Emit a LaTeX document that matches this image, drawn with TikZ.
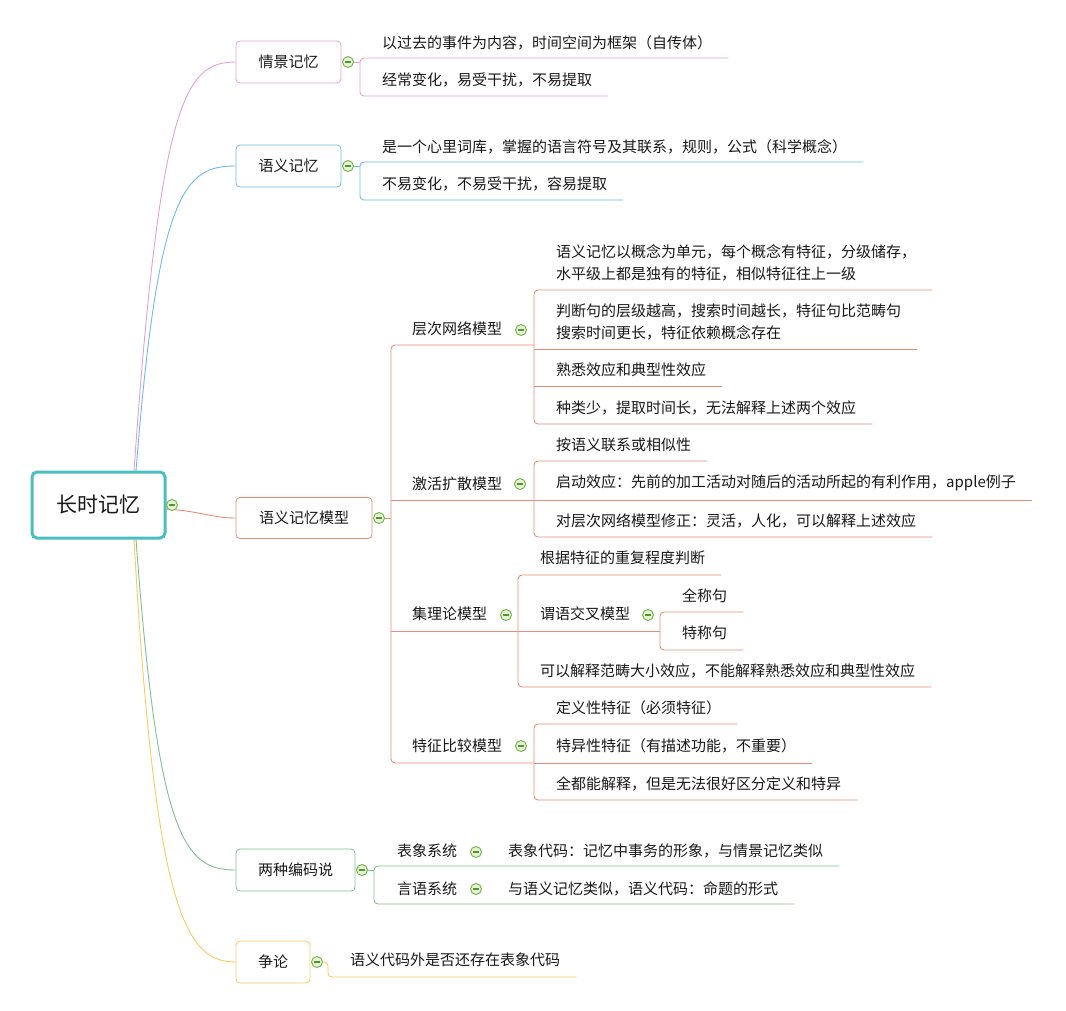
\documentclass[tikz,border=0pt]{standalone}
\usepackage{fontspec}
\setmainfont{Noto Sans CJK SC}
\definecolor{cpink}{RGB}{226,162,214}
\definecolor{cblue}{RGB}{112,186,240}
\definecolor{csalmon}{RGB}{232,142,120}
\definecolor{cgreen}{RGB}{128,192,146}
\definecolor{cyellow}{RGB}{250,204,96}
\definecolor{cteal}{RGB}{76,190,192}
\definecolor{cminus}{RGB}{112,180,66}
\definecolor{cminusfill}{RGB}{228,242,214}
\definecolor{ctext}{RGB}{25,25,25}
\newcommand\mmleaf[5]{%
  \node[txt] (#1) at ({#2+22},{#4}) {#5};
  \coordinate (#1s) at (#2,#3);
  \coordinate[xshift=16pt] (#1e) at (#1.east |- #1s);
}
\begin{document}
\begin{tikzpicture}[x=1pt,y=-1pt,
  txt/.style={font=\fontsize{15}{22}\selectfont, text=ctext, inner sep=0pt, align=left, anchor=west},
  box/.style={draw, rounded corners=4pt, line width=0.8pt, minimum height=42pt, inner sep=0pt,
    font=\fontsize{15}{18}\selectfont, text=ctext, fill=white},
  minus/.style={circle, draw=cminus, fill=cminusfill, line width=0.9pt, minimum size=11pt, inner sep=0pt,
    path picture={\draw[cminus!80!black, line width=1.1pt]
      ([xshift=-3pt]path picture bounding box.center) -- ([xshift=3pt]path picture bounding box.center);}},
  conn/.style={line width=0.9pt, rounded corners=4pt},
  curve/.style={line width=0.9pt}]
\useasboundingbox (0,0) rectangle (1066,1010);
\fill[white] (0,0) rectangle (1066,1010);

% ---------- main boxes ----------
\node[box, draw=cpink, minimum width=105pt] (qj) at (288.5,62) {情景记忆};
\node[box, draw=cblue, minimum width=105pt] (yy) at (288.5,166) {语义记忆};
\node[box, draw=csalmon, minimum width=136pt, minimum height=41pt] (ym) at (304,518) {语义记忆模型};
\node[box, draw=cgreen, minimum width=119pt] (lz) at (295.5,870) {两种编码说};
\node[box, draw=cyellow, minimum width=74pt] (zl) at (273,962) {争论};

% ---------- root curves ----------
\coordinate (r1) at (134,471);
\coordinate (r2) at (136,471);
\coordinate (r3) at (166,509);
\coordinate (r4) at (136,539);
\coordinate (r5) at (134,539);
\draw[curve, cpink] (r1) .. controls (160,100) and (185,62) .. (qj.west);
\draw[curve, cblue] (r2) .. controls (158,190) and (185,166) .. (yy.west);
\draw[curve, csalmon] (r3) .. controls (200,511) and (212,518) .. (ym.west);
\draw[curve, cgreen] (r4) .. controls (158,840) and (185,870) .. (lz.west);
\draw[curve, cyellow] (r5) .. controls (155,910) and (185,962) .. (zl.west);

\node[draw=cteal, line width=3pt, rounded corners=5pt, fill=white, minimum width=133pt, minimum height=66pt,
  font=\fontsize{21}{24}\selectfont, text=ctext] (root) at (98.5,505) {长时记忆};

% ---------- 情景记忆 ----------
\mmleaf{q1}{360}{58}{43}{以过去的事件为内容，时间空间为框架（自传体）}
\mmleaf{q2}{360}{96}{80}{经常变化，易受干扰，不易提取}
\node[minus] (cqj) at (348,62) {};
\draw[conn, cpink] (q1e) -- (q1s) -- (q2s) -- (q2e);
\draw[conn, cpink] (cqj.east) -- (cqj.east -| q1s);

% ---------- 语义记忆 ----------
\mmleaf{y1}{360}{162}{147}{是一个心里词库，掌握的语言符号及其联系，规则，公式（科学概念）}
\mmleaf{y2}{360}{200}{184}{不易变化，不易受干扰，容易提取}
\node[minus] (cyy) at (348,166) {};
\draw[conn, cblue] (y1e) -- (y1s) -- (y2s) -- (y2e);
\draw[conn, cblue] (cyy.east) -- (cyy.east -| y1s);

% ---------- 语义记忆模型 ----------
\node[txt] (cc) at (412,329) {层次网络模型};
\node[txt] (jh) at (412,484) {激活扩散模型};
\node[txt] (jl) at (412,614) {集理论模型};
\node[txt] (tz) at (412,746) {特征比较模型};
\coordinate (ccs) at (391,345); \coordinate (cce) at (534,345);
\coordinate (jhs) at (391,500); \coordinate (jhe) at (534,500);
\coordinate (jls) at (391,631); \coordinate (jle) at (518,631);
\coordinate (tzs) at (391,763); \coordinate (tze) at (534,763);
\node[minus] (cym) at (379,518) {};
\draw[conn, csalmon] (cce) -- (ccs) -- (tzs) -- (tze);
\draw[conn, csalmon] (jhs) -- (jhe);
\draw[conn, csalmon] (jls) -- (jle);
\draw[conn, csalmon] (cym.east) -- (cym.east -| ccs);

% 层次网络模型
\mmleaf{h1}{534}{290}{262.5}{语义记忆以概念为单元，每个概念有特征，分级储存，\\水平级上都是独有的特征，相似特征往上一级}
\mmleaf{h2}{534}{349}{321.5}{判断句的层级越高，搜索时间越长，特征句比范畴句\\搜索时间更长，特征依赖概念存在}
\mmleaf{h3}{534}{386}{370}{熟悉效应和典型性效应}
\mmleaf{h4}{534}{424}{408}{种类少，提取时间长，无法解释上述两个效应}
\draw[conn, csalmon] (h1e) -- (h1s) -- (h4s) -- (h4e);
\draw[conn, csalmon] (h2s) -- (h2e);
\draw[conn, csalmon] (h3s) -- (h3e);
\node[minus] (ccc) at (521,330) {};

% 激活扩散模型
\mmleaf{a1}{534}{461}{445}{按语义联系或相似性}
\mmleaf{a2}{534}{500}{483}{启动效应：先前的加工活动对随后的活动所起的有利作用，apple例子}
\mmleaf{a3}{534}{537}{521}{对层次网络模型修正：灵活，人化，可以解释上述效应}
\draw[conn, csalmon] (a1e) -- (a1s) -- (a3s) -- (a3e);
\draw[conn, csalmon] (a2s) -- (a2e);
\node[minus] (cjh) at (520,484) {};

% 集理论模型
\mmleaf{s1}{518}{575}{558}{根据特征的重复程度判断}
\node[txt] (s2) at (540,614) {谓语交叉模型};
\coordinate (s2s) at (518,631); \coordinate (s2e) at (660,631);
\mmleaf{s3}{518}{687}{671}{可以解释范畴大小效应，不能解释熟悉效应和典型性效应}
\draw[conn, csalmon] (s1e) -- (s1s) -- (s3s) -- (s3e);
\draw[conn, csalmon] (s2s) -- (s2e);
\node[minus] (cjl) at (506,615) {};
\mmleaf{w1}{660}{612}{596}{全称句}
\mmleaf{w2}{660}{650}{633}{特称句}
\draw[conn, csalmon] (w1e) -- (w1s) -- (w2s) -- (w2e);
\node[minus] (cwy) at (648,615) {};

% 特征比较模型
\mmleaf{t1}{534}{724}{708}{定义性特征（必须特征）}
\mmleaf{t2}{534}{763}{746}{特异性特征（有描述功能，不重要）}
\mmleaf{t3}{534}{800}{784}{全都能解释，但是无法很好区分定义和特异}
\draw[conn, csalmon] (t1e) -- (t1s) -- (t3s) -- (t3e);
\draw[conn, csalmon] (t2s) -- (t2e);
\node[minus] (ctz) at (521,746) {};

% ---------- 两种编码说 ----------
\node[txt] (bx) at (397,851) {表象系统};
\node[txt] (bxg) at (508,851) {表象代码：记忆中事务的形象，与情景记忆类似};
\coordinate (bxs) at (374,866);
\coordinate[xshift=16pt] (bxe) at (bxg.east |- bxs);
\node[txt] (yx) at (397,889) {言语系统};
\node[txt] (yxg) at (508,889) {与语义记忆类似，语义代码：命题的形式};
\coordinate (yxs) at (374,904);
\coordinate[xshift=16pt] (yxe) at (yxg.east |- yxs);
\node[minus] (clz) at (362,870) {};
\draw[conn, cgreen] (bxe) -- (bxs) -- (yxs) -- (yxe);
\draw[conn, cgreen] (clz.east) -- (clz.east -| bxs);
\node[minus] (cbx) at (476,852) {};
\node[minus] (cyx) at (476,889) {};

% ---------- 争论 ----------
\mmleaf{z1}{328}{977}{960}{语义代码外是否还存在表象代码}
\node[minus] (czl) at (317,962) {};
\draw[conn, cyellow] (czl.east) -- (czl.east -| z1s) -- (z1s) -- (z1e);

% root circle
\node[minus] (croot) at (172,505) {};
\end{tikzpicture}
\end{document}
